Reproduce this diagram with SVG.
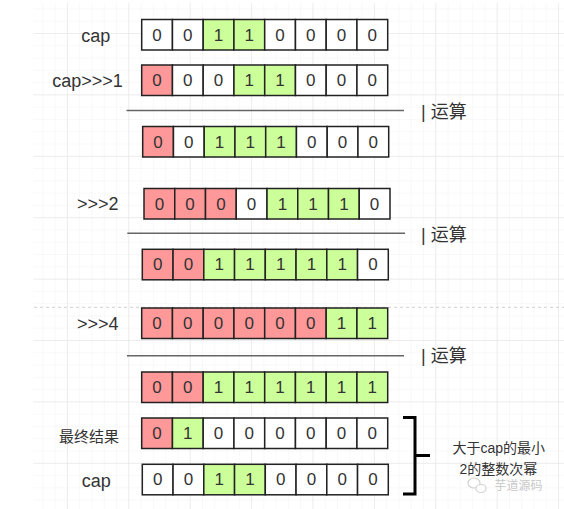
<svg xmlns="http://www.w3.org/2000/svg" width="564" height="509" viewBox="0 0 564 509">
<style>
.c{stroke:#222;stroke-width:1.5}
.w{fill:#fff}
.r{fill:#ff9999}
.g{fill:#ccff99}
.d{font-family:"Liberation Sans",Arial,sans-serif;font-size:17px;fill:#333;text-anchor:middle;dominant-baseline:central}
.lb{font-family:"Liberation Sans","Noto Sans CJK SC",sans-serif;font-size:18px;fill:#333;text-anchor:middle;dominant-baseline:central}
.op{font-family:"Liberation Sans","Noto Sans CJK SC",sans-serif;font-size:18px;fill:#333;dominant-baseline:central}
.sep{stroke:#666;stroke-width:1.5}
</style>
<defs>
<pattern id="minor" x="5.5" y="33" width="12.28" height="12.28" patternUnits="userSpaceOnUse">
<path d="M0 0H12.28M0 0V12.28" fill="none" stroke="#f2f2f2" stroke-width="1"/>
</pattern>
<pattern id="major" x="5.5" y="33" width="61.4" height="61.4" patternUnits="userSpaceOnUse">
<path d="M0 0H61.4M0 0V61.4" fill="none" stroke="#e2e2e2" stroke-width="1"/>
</pattern>
</defs>
<rect width="564" height="509" fill="#fff"/>
<rect x="33.5" y="3" width="531" height="506" fill="url(#minor)"/>
<rect x="33.5" y="3" width="531" height="506" fill="url(#major)"/>
<line x1="34" y1="307.3" x2="564" y2="307.3" stroke="#cfcfcf" stroke-width="1" stroke-dasharray="3,3"/>

<g id="connectors">
<line class="sep" x1="126.5" y1="110.5" x2="404" y2="110.5"/>
<line class="sep" x1="127.3" y1="233.3" x2="405" y2="233.3"/>
<line class="sep" x1="127" y1="355.7" x2="404" y2="355.7"/>
<path d="M403 417.5H415V494H403M415 455.5H430" fill="none" stroke="#000" stroke-width="3"/>
</g>

<g id="labels">
<text class="lb" x="95.8" y="36">cap</text>
<text class="lb" x="87.6" y="81">cap&gt;&gt;&gt;1</text>
<text class="lb" x="97.8" y="204.3">&gt;&gt;&gt;2</text>
<text class="lb" x="97.8" y="324.3">&gt;&gt;&gt;4</text>
<text class="lb" x="89.1" y="436" style="font-size:15px">最终结果</text>
<text class="lb" x="96.3" y="481">cap</text>
<text class="op" x="421" y="112">| 运算</text>
<text class="op" x="421" y="235">| 运算</text>
<text class="op" x="421" y="356">| 运算</text>
<text class="lb" x="498.8" y="448.3" style="font-size:14px">大于cap的最小</text>
<text class="lb" x="498.3" y="469" style="font-size:14px">2的整数次幂</text>
</g>

<g id="watermark" opacity="0.8">
<ellipse cx="474" cy="483" rx="6" ry="5" fill="#fff" stroke="#c8c8c8" stroke-width="1.2"/>
<ellipse cx="481" cy="488.5" rx="5" ry="4" fill="#fff" stroke="#c8c8c8" stroke-width="1.2"/>
<text class="lb" x="518.6" y="486" style="font-size:12px;fill:#bbb">芋道源码</text>
</g>

<g id="row1" transform="translate(141.7,19.5)">
<rect class="c w" x="0" y="0" width="30.75" height="30.5"/><rect class="c w" x="30.75" y="0" width="30.75" height="30.5"/><rect class="c g" x="61.5" y="0" width="30.75" height="30.5"/><rect class="c g" x="92.25" y="0" width="30.75" height="30.5"/><rect class="c w" x="123" y="0" width="30.75" height="30.5"/><rect class="c w" x="153.75" y="0" width="30.75" height="30.5"/><rect class="c w" x="184.5" y="0" width="30.75" height="30.5"/><rect class="c w" x="215.25" y="0" width="30.75" height="30.5"/>
<text class="d" x="15.4" y="15.5">0</text><text class="d" x="46.1" y="15.5">0</text><text class="d" x="76.9" y="15.5">1</text><text class="d" x="107.6" y="15.5">1</text><text class="d" x="138.4" y="15.5">0</text><text class="d" x="169.1" y="15.5">0</text><text class="d" x="199.9" y="15.5">0</text><text class="d" x="230.6" y="15.5">0</text>
</g>

<g id="row2" transform="translate(141.7,65)">
<rect class="c r" x="0" y="0" width="30.75" height="30.5"/><rect class="c w" x="30.75" y="0" width="30.75" height="30.5"/><rect class="c w" x="61.5" y="0" width="30.75" height="30.5"/><rect class="c g" x="92.25" y="0" width="30.75" height="30.5"/><rect class="c g" x="123" y="0" width="30.75" height="30.5"/><rect class="c w" x="153.75" y="0" width="30.75" height="30.5"/><rect class="c w" x="184.5" y="0" width="30.75" height="30.5"/><rect class="c w" x="215.25" y="0" width="30.75" height="30.5"/>
<text class="d" x="15.4" y="15.5">0</text><text class="d" x="46.1" y="15.5">0</text><text class="d" x="76.9" y="15.5">0</text><text class="d" x="107.6" y="15.5">1</text><text class="d" x="138.4" y="15.5">1</text><text class="d" x="169.1" y="15.5">0</text><text class="d" x="199.9" y="15.5">0</text><text class="d" x="230.6" y="15.5">0</text>
</g>

<g id="row3" transform="translate(142.7,126.5)">
<rect class="c r" x="0" y="0" width="30.75" height="30.5"/><rect class="c w" x="30.75" y="0" width="30.75" height="30.5"/><rect class="c g" x="61.5" y="0" width="30.75" height="30.5"/><rect class="c g" x="92.25" y="0" width="30.75" height="30.5"/><rect class="c g" x="123" y="0" width="30.75" height="30.5"/><rect class="c w" x="153.75" y="0" width="30.75" height="30.5"/><rect class="c w" x="184.5" y="0" width="30.75" height="30.5"/><rect class="c w" x="215.25" y="0" width="30.75" height="30.5"/>
<text class="d" x="15.4" y="15.5">0</text><text class="d" x="46.1" y="15.5">0</text><text class="d" x="76.9" y="15.5">1</text><text class="d" x="107.6" y="15.5">1</text><text class="d" x="138.4" y="15.5">1</text><text class="d" x="169.1" y="15.5">0</text><text class="d" x="199.9" y="15.5">0</text><text class="d" x="230.6" y="15.5">0</text>
</g>

<g id="row4" transform="translate(144,188.5)">
<rect class="c r" x="0" y="0" width="30.75" height="30.5"/><rect class="c r" x="30.75" y="0" width="30.75" height="30.5"/><rect class="c r" x="61.5" y="0" width="30.75" height="30.5"/><rect class="c w" x="92.25" y="0" width="30.75" height="30.5"/><rect class="c g" x="123" y="0" width="30.75" height="30.5"/><rect class="c g" x="153.75" y="0" width="30.75" height="30.5"/><rect class="c g" x="184.5" y="0" width="30.75" height="30.5"/><rect class="c w" x="215.25" y="0" width="30.75" height="30.5"/>
<text class="d" x="15.4" y="15.5">0</text><text class="d" x="46.1" y="15.5">0</text><text class="d" x="76.9" y="15.5">0</text><text class="d" x="107.6" y="15.5">0</text><text class="d" x="138.4" y="15.5">1</text><text class="d" x="169.1" y="15.5">1</text><text class="d" x="199.9" y="15.5">1</text><text class="d" x="230.6" y="15.5">0</text>
</g>

<g id="row5" transform="translate(142.3,249.3)">
<rect class="c r" x="0" y="0" width="30.75" height="30.5"/><rect class="c r" x="30.75" y="0" width="30.75" height="30.5"/><rect class="c g" x="61.5" y="0" width="30.75" height="30.5"/><rect class="c g" x="92.25" y="0" width="30.75" height="30.5"/><rect class="c g" x="123" y="0" width="30.75" height="30.5"/><rect class="c g" x="153.75" y="0" width="30.75" height="30.5"/><rect class="c g" x="184.5" y="0" width="30.75" height="30.5"/><rect class="c w" x="215.25" y="0" width="30.75" height="30.5"/>
<text class="d" x="15.4" y="15.5">0</text><text class="d" x="46.1" y="15.5">0</text><text class="d" x="76.9" y="15.5">1</text><text class="d" x="107.6" y="15.5">1</text><text class="d" x="138.4" y="15.5">1</text><text class="d" x="169.1" y="15.5">1</text><text class="d" x="199.9" y="15.5">1</text><text class="d" x="230.6" y="15.5">0</text>
</g>

<g id="row6" transform="translate(141.7,308)">
<rect class="c r" x="0" y="0" width="30.75" height="30.5"/><rect class="c r" x="30.75" y="0" width="30.75" height="30.5"/><rect class="c r" x="61.5" y="0" width="30.75" height="30.5"/><rect class="c r" x="92.25" y="0" width="30.75" height="30.5"/><rect class="c r" x="123" y="0" width="30.75" height="30.5"/><rect class="c r" x="153.75" y="0" width="30.75" height="30.5"/><rect class="c g" x="184.5" y="0" width="30.75" height="30.5"/><rect class="c g" x="215.25" y="0" width="30.75" height="30.5"/>
<text class="d" x="15.4" y="15.5">0</text><text class="d" x="46.1" y="15.5">0</text><text class="d" x="76.9" y="15.5">0</text><text class="d" x="107.6" y="15.5">0</text><text class="d" x="138.4" y="15.5">0</text><text class="d" x="169.1" y="15.5">0</text><text class="d" x="199.9" y="15.5">1</text><text class="d" x="230.6" y="15.5">1</text>
</g>

<g id="row7" transform="translate(141.7,372)">
<rect class="c r" x="0" y="0" width="30.75" height="30.5"/><rect class="c r" x="30.75" y="0" width="30.75" height="30.5"/><rect class="c g" x="61.5" y="0" width="30.75" height="30.5"/><rect class="c g" x="92.25" y="0" width="30.75" height="30.5"/><rect class="c g" x="123" y="0" width="30.75" height="30.5"/><rect class="c g" x="153.75" y="0" width="30.75" height="30.5"/><rect class="c g" x="184.5" y="0" width="30.75" height="30.5"/><rect class="c g" x="215.25" y="0" width="30.75" height="30.5"/>
<text class="d" x="15.4" y="15.5">0</text><text class="d" x="46.1" y="15.5">0</text><text class="d" x="76.9" y="15.5">1</text><text class="d" x="107.6" y="15.5">1</text><text class="d" x="138.4" y="15.5">1</text><text class="d" x="169.1" y="15.5">1</text><text class="d" x="199.9" y="15.5">1</text><text class="d" x="230.6" y="15.5">1</text>
</g>

<g id="row8" transform="translate(141.7,418)">
<rect class="c r" x="0" y="0" width="30.75" height="30.5"/><rect class="c g" x="30.75" y="0" width="30.75" height="30.5"/><rect class="c w" x="61.5" y="0" width="30.75" height="30.5"/><rect class="c w" x="92.25" y="0" width="30.75" height="30.5"/><rect class="c w" x="123" y="0" width="30.75" height="30.5"/><rect class="c w" x="153.75" y="0" width="30.75" height="30.5"/><rect class="c w" x="184.5" y="0" width="30.75" height="30.5"/><rect class="c w" x="215.25" y="0" width="30.75" height="30.5"/>
<text class="d" x="15.4" y="15.5">0</text><text class="d" x="46.1" y="15.5">1</text><text class="d" x="76.9" y="15.5">0</text><text class="d" x="107.6" y="15.5">0</text><text class="d" x="138.4" y="15.5">0</text><text class="d" x="169.1" y="15.5">0</text><text class="d" x="199.9" y="15.5">0</text><text class="d" x="230.6" y="15.5">0</text>
</g>

<g id="row9" transform="translate(142.3,464.3)">
<rect class="c w" x="0" y="0" width="30.75" height="30.5"/><rect class="c w" x="30.75" y="0" width="30.75" height="30.5"/><rect class="c g" x="61.5" y="0" width="30.75" height="30.5"/><rect class="c g" x="92.25" y="0" width="30.75" height="30.5"/><rect class="c w" x="123" y="0" width="30.75" height="30.5"/><rect class="c w" x="153.75" y="0" width="30.75" height="30.5"/><rect class="c w" x="184.5" y="0" width="30.75" height="30.5"/><rect class="c w" x="215.25" y="0" width="30.75" height="30.5"/>
<text class="d" x="15.4" y="15.5">0</text><text class="d" x="46.1" y="15.5">0</text><text class="d" x="76.9" y="15.5">1</text><text class="d" x="107.6" y="15.5">1</text><text class="d" x="138.4" y="15.5">0</text><text class="d" x="169.1" y="15.5">0</text><text class="d" x="199.9" y="15.5">0</text><text class="d" x="230.6" y="15.5">0</text>
</g>
</svg>
